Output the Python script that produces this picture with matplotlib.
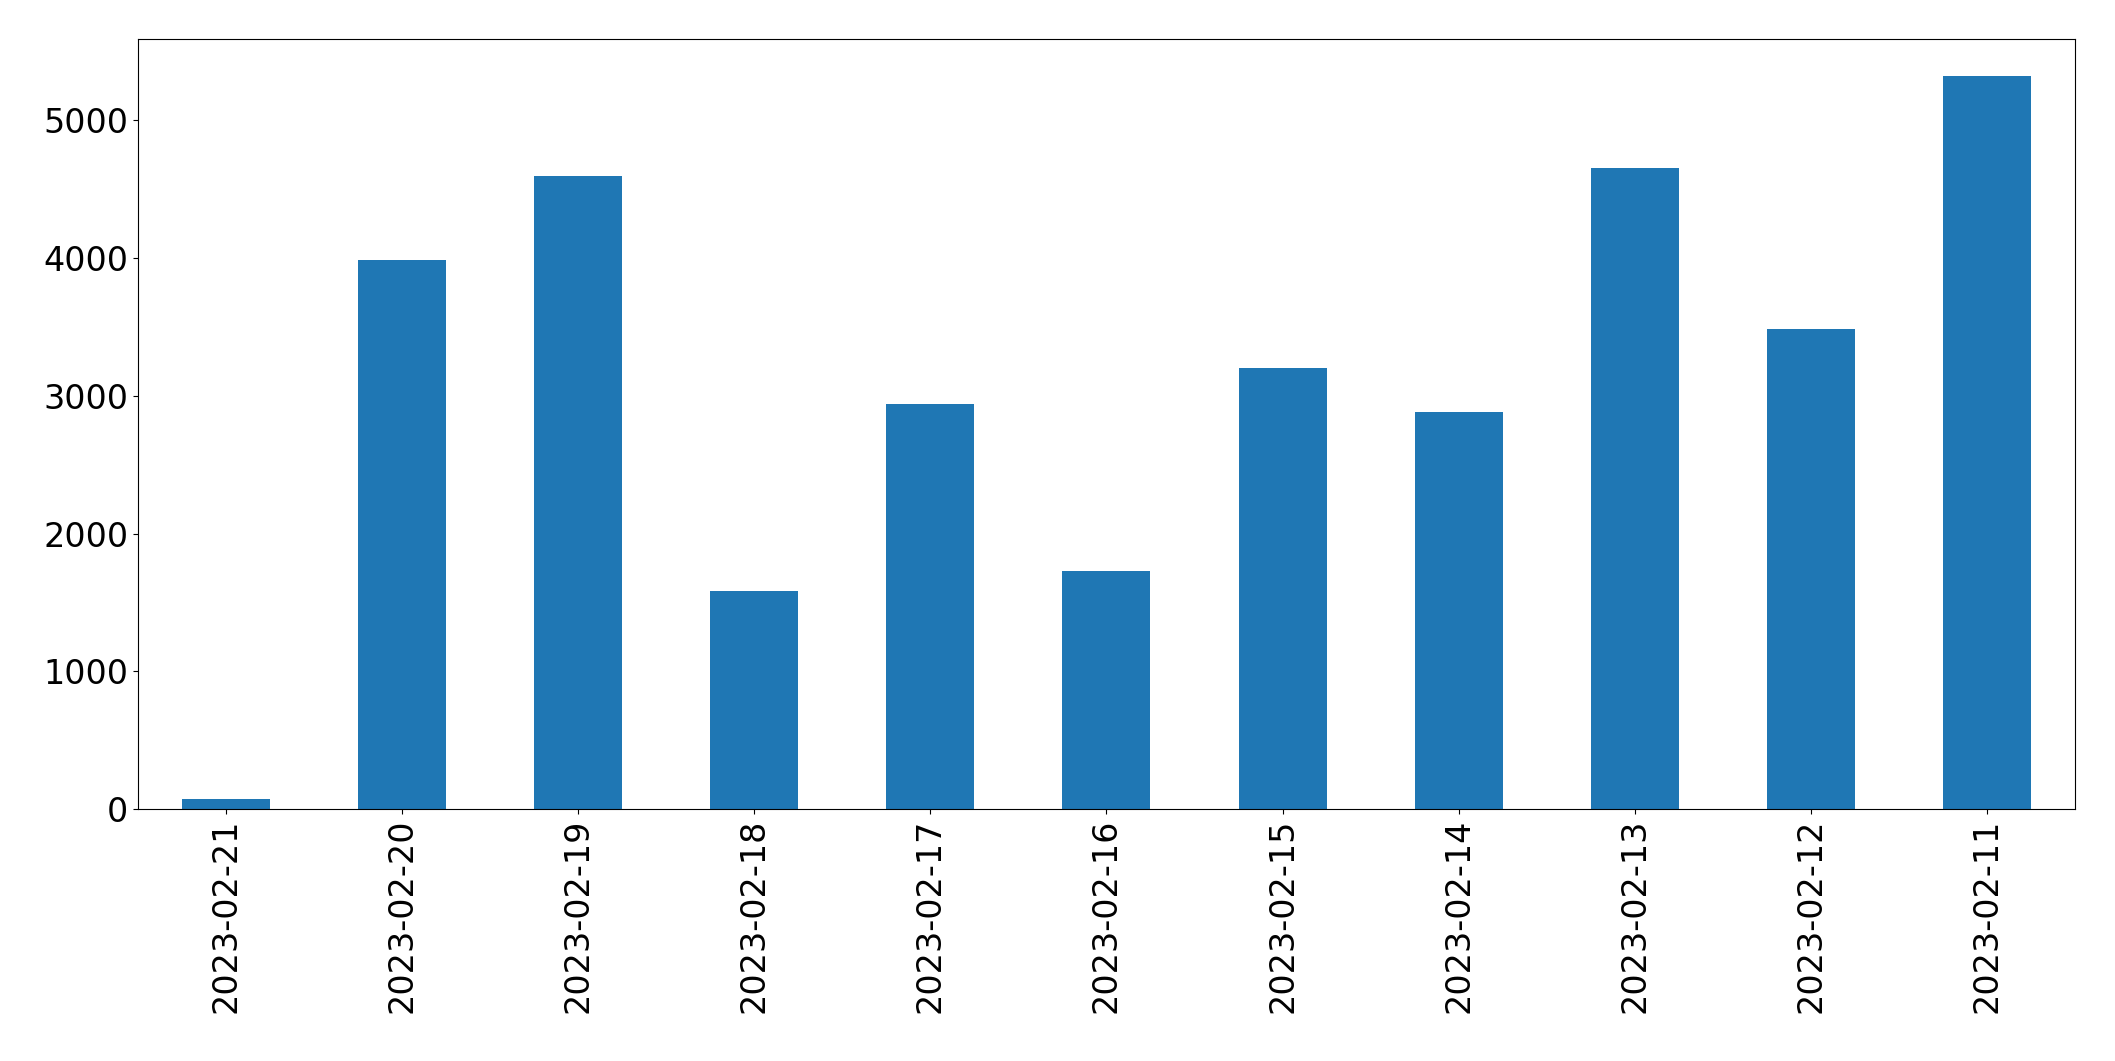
import matplotlib
matplotlib.use("Agg")
import matplotlib.pyplot as plt

dates = ['2023-02-21', '2023-02-20', '2023-02-19', '2023-02-18', '2023-02-17', '2023-02-16',
         '2023-02-15', '2023-02-14', '2023-02-13', '2023-02-12', '2023-02-11']
counts = [75, 3985, 4595, 1585, 2943, 1731, 3202, 2884, 4654, 3486, 5323]

fig, ax = plt.subplots(figsize=(21.15, 10.61), dpi=100)
fig.subplots_adjust(left=0.0652, right=0.9811, top=0.963, bottom=0.2375)

x = range(len(dates))
ax.bar(x, counts, width=0.5, color='#1f77b4')
ax.set_xlim(-0.5, len(dates) - 0.5)
ax.set_xticks(list(x))
ax.set_xticklabels(dates, rotation=90)
ax.tick_params(axis='both', labelsize=24)

fig.savefig('out.png', dpi=100)
